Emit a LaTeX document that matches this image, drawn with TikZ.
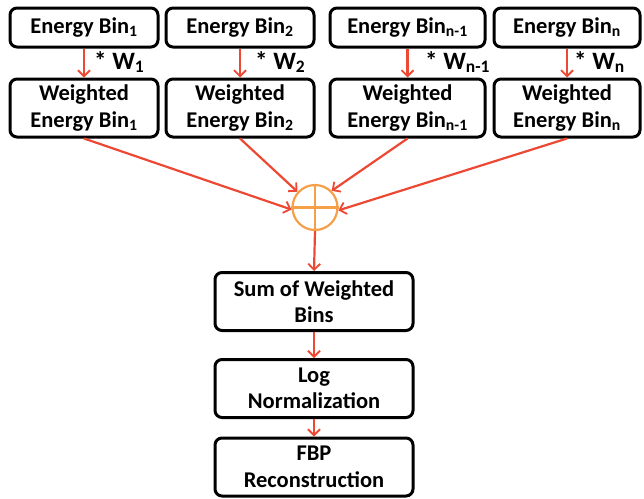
\documentclass[tikz,border=0pt]{standalone}
\usepackage{fontspec}
\setmainfont{Carlito}
\usetikzlibrary{arrows.meta,calc}
\definecolor{arrred}{RGB}{236,72,52}
\definecolor{sumorange}{RGB}{245,160,72}
\tikzset{
  box/.style={draw=black,line width=3pt,rounded corners=7pt,align=center,
    font=\fontsize{22.5}{26.5}\selectfont\bfseries,inner sep=0pt},
  topbox/.style={box,minimum height=39pt},
  wbox/.style={box,minimum height=58pt},
  lowbox/.style={box,minimum height=58pt,minimum width=198pt},
  arr/.style={draw=arrred,line width=2.2pt,-{Straight Barb[length=6pt,width=12pt,line width=1.8pt]}},
  wlabel/.style={font=\fontsize{25}{28}\selectfont\bfseries,anchor=west,inner sep=0pt}
}
\begin{document}
\begin{tikzpicture}[x=1pt,y=-1pt]
\useasboundingbox (0,0) rectangle (644,498);
% top boxes
\node[topbox,minimum width=148pt] (e1) at (84,27.5) {Energy Bin\textsubscript{1}};
\node[topbox,minimum width=148pt] (e2) at (240,27.5) {Energy Bin\textsubscript{2}};
\node[topbox,minimum width=155pt] (e3) at (407.5,27.5) {Energy Bin\textsubscript{n-1}};
\node[topbox,minimum width=146pt] (e4) at (567,27.5) {Energy Bin\textsubscript{n}};
% weighted boxes
\node[wbox,minimum width=148pt] (w1) at (84,108) {Weighted\\Energy Bin\textsubscript{1}};
\node[wbox,minimum width=148pt] (w2) at (240,108) {Weighted\\Energy Bin\textsubscript{2}};
\node[wbox,minimum width=155pt] (w3) at (407.5,108) {Weighted\\Energy Bin\textsubscript{n-1}};
\node[wbox,minimum width=146pt] (w4) at (567,108) {Weighted\\Energy Bin\textsubscript{n}};
% weight arrows
\draw[arr] (e1.south) -- (w1.north);
\draw[arr] (e2.south) -- (w2.north);
\draw[arr] (e3.south) -- (w3.north);
\draw[arr] (e4.south) -- (w4.north);
\node[wlabel] (l1) at (94,62) {* W\textsubscript{1}};
\node[wlabel] (l2) at (255,62) {* W\textsubscript{2}};
\node[wlabel] (l3) at (425,62) {* W\textsubscript{n-1}};
\node[wlabel] (l4) at (574,62) {* W\textsubscript{n}};
% summation circle
\node[draw=sumorange,line width=2.2pt,circle,minimum size=45pt,inner sep=0pt] (s) at (315,207.5) {};
\draw[sumorange,line width=2.2pt] (s.north) -- (s.south) (s.west) -- (s.east);
\draw[arr] (w1.south) -- (s.185);
\draw[arr] (w2.south) -- (s.138);
\draw[arr] (w3.south) -- (s.45);
\draw[arr] (w4.south) -- (s.-7);
% lower chain
\node[lowbox] (sum) at (314,301.5) {Sum of Weighted\\Bins};
\node[lowbox] (log) at (314,388.5) {Log\\Normalization};
\node[lowbox] (fbp) at (314,467) {FBP\\Reconstruction};
\draw[arr] (s.south) -- (sum.north);
\draw[arr] (sum.south) -- (log.north);
\draw[arr] (log.south) -- (fbp.north);
\end{tikzpicture}
\end{document}
